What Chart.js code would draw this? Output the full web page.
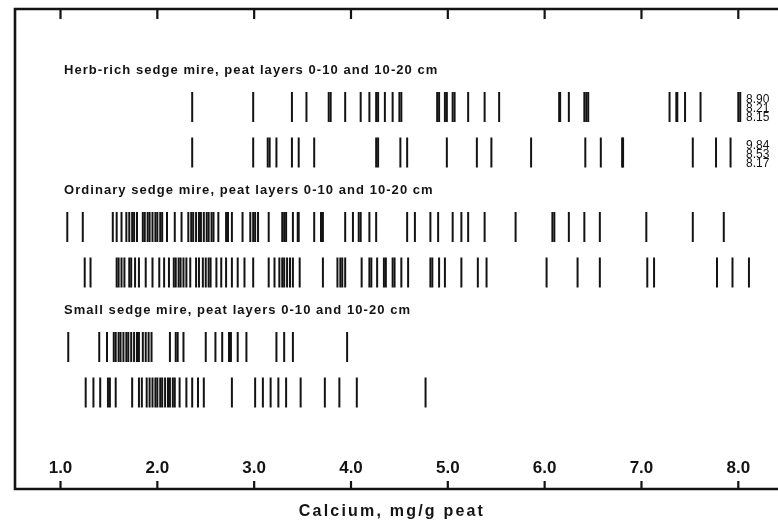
<!DOCTYPE html>
<html>
<head>
<meta charset="utf-8">
<script src="https://cdn.jsdelivr.net/npm/chart.js@4/dist/chart.umd.min.js"></script>
<style>
  html, body { margin: 0; padding: 0; background: #fff; }
  #wrap { width: 778px; height: 524px; }
</style>
</head>
<body>
<div id="wrap"><canvas id="calcium-chart" width="778" height="524"></canvas></div>
<script>
/**
 * 이탄 칼슘 함량 분포 (mg/g peat)
 */

// 그룹 제목
const groupTitles = [
  'Herb-rich sedge mire, peat layers 0-10 and 10-20 cm',
  'Ordinary sedge mire, peat layers 0-10 and 10-20 cm',
  'Small sedge mire, peat layers 0-10 and 10-20 cm',
];

// x축 눈금
const xTicks = [1, 2, 3, 4, 5, 6, 7, 8];
const axisTitle = 'Calcium, mg/g peat';

// 측정값 - Herb-rich sedge mire
const herbRich0to10 = [
  2.36, 2.99, 3.39, 3.54, 3.77, 3.79, 3.94, 4.10, 4.19, 4.26, 4.28, 4.35,
  4.43, 4.50, 4.52, 4.89, 4.91, 4.97, 4.99, 5.05, 5.07, 5.21, 5.38, 5.53,
  6.15, 6.16, 6.25, 6.41, 6.43, 6.45, 7.29, 7.36, 7.37, 7.45, 7.61, 8.00,
  8.02,
];
const herbRich10to20 = [
  2.36, 2.99, 3.14, 3.16, 3.23, 3.39, 3.46, 3.62, 4.26, 4.28, 4.51, 4.58,
  4.99, 5.30, 5.45, 5.86, 6.42, 6.58, 6.80, 6.81, 7.53, 7.77, 7.92,
];
// 범위 밖 값 (숫자로만 표시)
const herbRichOver0to10 = [8.90, 8.21, 8.15];
const herbRichOver10to20 = [9.84, 8.53, 8.17];

// 측정값 - Ordinary sedge mire
const ordinary0to10 = [
  1.07, 1.23, 1.54, 1.58, 1.63, 1.68, 1.71, 1.74, 1.76, 1.79, 1.85, 1.87,
  1.90, 1.92, 1.95, 1.98, 2.00, 2.03, 2.05, 2.10, 2.18, 2.25, 2.32, 2.35,
  2.37, 2.40, 2.43, 2.45, 2.48, 2.51, 2.53, 2.56, 2.58, 2.63, 2.71, 2.73,
  2.77, 2.88, 2.96, 2.99, 3.01, 3.04, 3.15, 3.29, 3.31, 3.33, 3.40, 3.45,
  3.46, 3.62, 3.69, 3.71, 3.94, 4.02, 4.08, 4.10, 4.19, 4.26, 4.58, 4.66,
  4.82, 4.90, 5.05, 5.14, 5.21, 5.38, 5.70, 6.08, 6.10, 6.25, 6.41, 6.57,
  7.05, 7.53, 7.85,
];
const ordinary10to20 = [
  1.25, 1.31, 1.58, 1.60, 1.63, 1.66, 1.71, 1.73, 1.77, 1.81, 1.88, 1.95,
  2.02, 2.07, 2.12, 2.17, 2.19, 2.22, 2.24, 2.27, 2.30, 2.34, 2.40, 2.43,
  2.47, 2.50, 2.53, 2.55, 2.61, 2.66, 2.71, 2.77, 2.83, 2.90, 2.99, 3.15,
  3.21, 3.26, 3.29, 3.31, 3.34, 3.37, 3.40, 3.47, 3.71, 3.86, 3.89, 3.91,
  3.94, 4.11, 4.19, 4.21, 4.27, 4.34, 4.36, 4.43, 4.45, 4.52, 4.59, 4.82,
  4.84, 4.91, 4.97, 5.14, 5.31, 5.40, 6.02, 6.34, 6.57, 7.06, 7.13, 7.78,
  7.94, 8.11,
];

// 측정값 - Small sedge mire
const small0to10 = [
  1.08, 1.40, 1.48, 1.55, 1.57, 1.60, 1.62, 1.65, 1.68, 1.70, 1.73, 1.76,
  1.79, 1.81, 1.85, 1.88, 1.91, 1.94, 2.13, 2.19, 2.21, 2.27, 2.50, 2.60,
  2.67, 2.74, 2.76, 2.83, 2.92, 3.23, 3.31, 3.40, 3.96,
];
const small10to20 = [
  1.26, 1.34, 1.41, 1.49, 1.51, 1.57, 1.74, 1.81, 1.84, 1.89, 1.92, 1.95,
  1.98, 2.00, 2.03, 2.05, 2.08, 2.11, 2.13, 2.16, 2.18, 2.23, 2.30, 2.36,
  2.42, 2.48, 2.77, 3.01, 3.09, 3.17, 3.25, 3.33, 3.48, 3.73, 3.88, 4.06,
  4.77,
];

// 레이아웃 (y축 단위: 10px)
const groupTop = [9.8, 21.8, 33.8];
const rowGap = 4.55;
const titleOffset = -3.7;
const ink = '#131313';

const rows = [
  { values: herbRich0to10, y: groupTop[0], over: herbRichOver0to10 },
  { values: herbRich10to20, y: groupTop[0] + rowGap, over: herbRichOver10to20 },
  { values: ordinary0to10, y: groupTop[1] },
  { values: ordinary10to20, y: groupTop[1] + rowGap },
  { values: small0to10, y: groupTop[2] },
  { values: small10to20, y: groupTop[2] + rowGap },
];

// 틀, 눈금, 제목 그리기
const framePlugin = {
  id: 'frame',
  afterDraw(chart) {
    const { ctx, chartArea } = chart;
    const xs = chart.scales.x;
    const ys = chart.scales.y;
    const { left, right, top, bottom } = chartArea;

    ctx.save();
    ctx.strokeStyle = ink;
    ctx.fillStyle = ink;
    ctx.lineWidth = 2.6;
    ctx.lineCap = 'butt';

    // 테두리
    ctx.beginPath();
    ctx.moveTo(right + 2, top);
    ctx.lineTo(left, top);
    ctx.lineTo(left, bottom);
    ctx.lineTo(right + 2, bottom);
    ctx.stroke();

    // 위/아래 눈금
    ctx.lineWidth = 2.2;
    xTicks.forEach((v) => {
      const px = xs.getPixelForValue(v);
      ctx.beginPath();
      ctx.moveTo(px, top);
      ctx.lineTo(px, top + 10);
      ctx.moveTo(px, bottom);
      ctx.lineTo(px, bottom - 8);
      ctx.stroke();
    });

    // 눈금 라벨
    ctx.font = 'bold 17px "Liberation Sans", Arial, sans-serif';
    ctx.textAlign = 'center';
    ctx.textBaseline = 'middle';
    xTicks.forEach((v) => {
      ctx.fillText(v.toFixed(1), xs.getPixelForValue(v), bottom - 21);
    });

    // 그룹 제목
    ctx.font = 'bold 13px "Liberation Sans", Arial, sans-serif';
    ctx.textAlign = 'left';
    if ('letterSpacing' in ctx) ctx.letterSpacing = '1.05px';
    groupTitles.forEach((t, i) => {
      ctx.fillText(t, left + 49, ys.getPixelForValue(groupTop[i] + titleOffset));
    });

    // 범위 밖 값
    ctx.font = '12px "Liberation Sans", Arial, sans-serif';
    if ('letterSpacing' in ctx) ctx.letterSpacing = '0px';
    rows.forEach((row) => {
      if (!row.over) return;
      const cy = ys.getPixelForValue(row.y);
      row.over.forEach((v, j) => {
        ctx.fillText(v.toFixed(2), 746, cy - 7 + j * 9);
      });
    });

    // x축 제목
    ctx.font = 'bold 16px "Liberation Sans", Arial, sans-serif';
    ctx.textAlign = 'center';
    if ('letterSpacing' in ctx) ctx.letterSpacing = '2.2px';
    ctx.fillText(axisTitle, 392, bottom + 23);
    ctx.restore();
  },
};

// 차트 생성
new Chart(document.getElementById('calcium-chart'), {
  type: 'scatter',
  data: {
    datasets: rows.map((row) => ({
      data: row.values.map((v) => ({ x: v, y: row.y })),
      pointStyle: 'line',
      rotation: 90,
      pointRadius: 15,
      pointHoverRadius: 15,
      borderColor: ink,
      borderWidth: 2,
    })),
  },
  options: {
    responsive: false,
    animation: false,
    devicePixelRatio: 1,
    layout: {
      autoPadding: false,
      padding: { left: 15, right: 0, top: 9, bottom: 35 },
    },
    plugins: {
      legend: { display: false },
      tooltip: { enabled: false },
    },
    events: [],
    scales: {
      x: {
        type: 'linear',
        display: false,
        min: 0.53,
        max: 8.41,
      },
      y: {
        type: 'linear',
        display: false,
        reverse: true,
        min: 0,
        max: 48,
      },
    },
  },
  plugins: [framePlugin],
});
</script>
</body>
</html>
